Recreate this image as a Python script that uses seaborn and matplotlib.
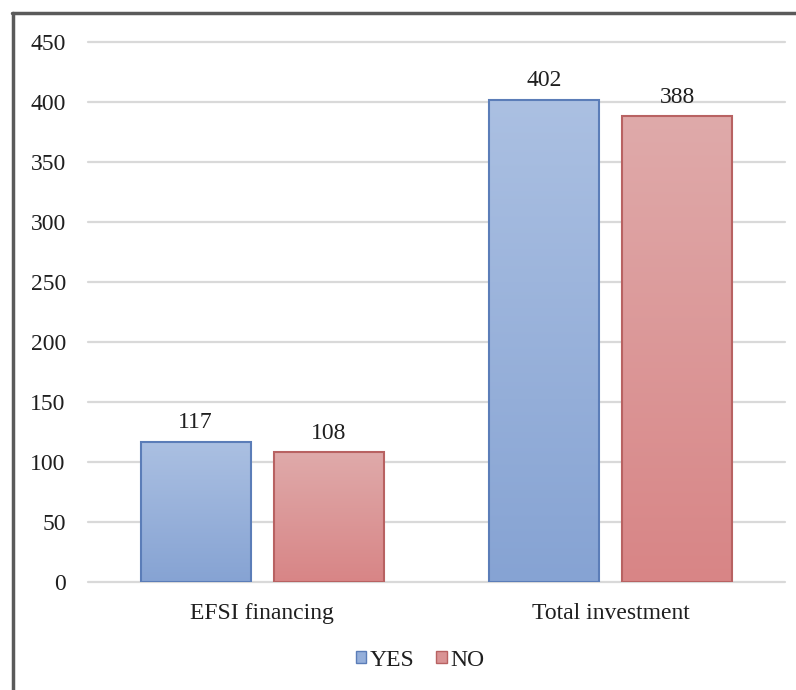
import numpy as np
import pandas as pd
import matplotlib
matplotlib.use("Agg")
import matplotlib.pyplot as plt
import seaborn as sns
from matplotlib.colors import LinearSegmentedColormap
from matplotlib.lines import Line2D
from matplotlib.patches import Patch

# Data
categories = ["EFSI financing", "Total investment"]
groups = ["YES", "NO"]
yes_values = [117, 402]
no_values = [108, 388]
y_ticks = [0, 50, 100, 150, 200, 250, 300, 350, 400, 450]

df = pd.DataFrame({
    "category": categories * 2,
    "group": ["YES"] * len(categories) + ["NO"] * len(categories),
    "value": yes_values + no_values,
})

sns.set_theme(style="white")
plt.rcParams["font.family"] = ["Liberation Serif", "DejaVu Serif"]

W, H = 796, 690
fig = plt.figure(figsize=(W / 100, H / 100), dpi=100)
ax = fig.add_axes([88 / W, 108 / H, 697 / W, 540 / H])

base = {"YES": "#95afda", "NO": "#d99394"}
edges = {"YES": "#5b7db8", "NO": "#b86262"}
grads = {
    "YES": ["#abc0e2", "#86a3d3"],
    "NO": ["#dfaaaa", "#d88586"],
}
text_color = "#1f1f1f"
fs = 17

sns.barplot(data=df, x="category", y="value", hue="group",
            order=categories, hue_order=groups, palette=base,
            saturation=1, width=0.766, gap=0.176, legend=False, ax=ax)

# vertical gradient fill for each bar, clipped to the bar outline
for container, g in zip(ax.containers, groups):
    cmap = LinearSegmentedColormap.from_list(g, grads[g][::-1])
    for bar in container:
        x0, y0 = bar.get_x(), bar.get_y()
        w, h = bar.get_width(), bar.get_height()
        grad = np.linspace(0, 1, 256).reshape(-1, 1)
        im = ax.imshow(grad, cmap=cmap, origin="lower", aspect="auto",
                       extent=[x0, x0 + w, y0, y0 + h], zorder=1.5,
                       interpolation="bilinear")
        im.set_clip_path(bar)
        bar.set_facecolor("none")
        bar.set_edgecolor(edges[g])
        bar.set_linewidth(1.5)
        bar.set_zorder(2)
    ax.bar_label(container, fmt="%d", padding=6, fontsize=fs, color=text_color)

ax.set_xlim(-0.5, 1.5)
ax.set_ylim(0, 450)
ax.set_yticks(y_ticks)
ax.set_xlabel("")
ax.set_ylabel("")
ax.yaxis.grid(True, color="#d9d9d9", linewidth=1.6)
for gl in ax.get_ygridlines():
    gl.set_clip_on(False)
ax.set_axisbelow(True)
for s in ax.spines.values():
    s.set_visible(False)
ax.tick_params(axis="y", length=0, pad=16, labelsize=fs, labelcolor=text_color)
ax.tick_params(axis="x", length=0, pad=15, labelsize=fs, labelcolor=text_color)

handles = [Patch(facecolor=base[g], edgecolor=edges[g], linewidth=1.0) for g in groups]
fig.legend(handles, groups, loc="center", bbox_to_anchor=(420 / W, 1 - 660 / H),
           ncol=2, frameon=False, fontsize=fs, handlelength=0.45, handleheight=0.45,
           handletextpad=0.15, columnspacing=0.9, labelcolor=text_color)

# outer frame (left and top edges)
fig.add_artist(Line2D([13 / W, 13 / W], [0, 1 - 13 / H], transform=fig.transFigure,
                      color="#5a5a5a", linewidth=2.5))
fig.add_artist(Line2D([12 / W, 1], [1 - 13 / H, 1 - 13 / H], transform=fig.transFigure,
                      color="#5a5a5a", linewidth=2.5))

fig.savefig("out.png", dpi=100, facecolor="white")
